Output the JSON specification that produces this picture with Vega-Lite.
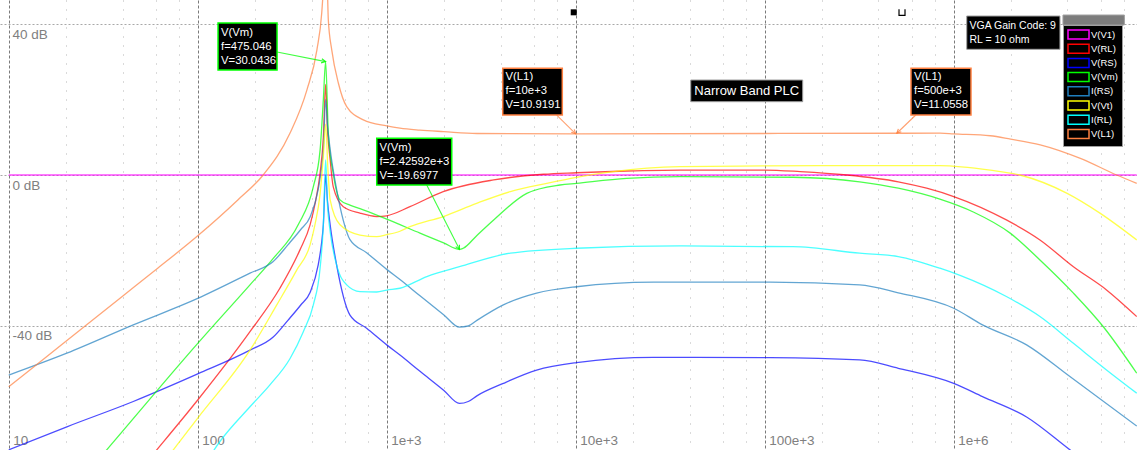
{
  "$schema": "https://vega.github.io/schema/vega-lite/v6.json",
  "width": 1137,
  "height": 450,
  "autosize": "none",
  "padding": 0,
  "background": "white",
  "config": {"view": {"stroke": null}, "font": "Liberation Sans"},
  "datasets": {
    "curves": [
      {"s":"V(V1)","f":10,"db":0},{"s":"V(V1)","f":9300000,"db":0},

      {"s":"V(RL)","f":10,"db":-120},{"s":"V(RL)","f":40,"db":-83.6},{"s":"V(RL)","f":60.7,"db":-72.8},{"s":"V(RL)","f":100,"db":-59.6},{"s":"V(RL)","f":189,"db":-41.5},{"s":"V(RL)","f":272,"db":-30},{"s":"V(RL)","f":347,"db":-19.9},{"s":"V(RL)","f":393,"db":-13.2},{"s":"V(RL)","f":420,"db":-7},{"s":"V(RL)","f":444,"db":0.5},{"s":"V(RL)","f":462,"db":10},{"s":"V(RL)","f":475,"db":24},{"s":"V(RL)","f":486,"db":12},{"s":"V(RL)","f":502,"db":4},{"s":"V(RL)","f":521,"db":-3.1},{"s":"V(RL)","f":589,"db":-8.4},{"s":"V(RL)","f":722,"db":-10.1},{"s":"V(RL)","f":885,"db":-11},{"s":"V(RL)","f":1000,"db":-10.8},{"s":"V(RL)","f":1327,"db":-8.4},{"s":"V(RL)","f":1990,"db":-4.4},{"s":"V(RL)","f":3680,"db":-1.3},{"s":"V(RL)","f":6750,"db":0.2},{"s":"V(RL)","f":10100,"db":0.6},{"s":"V(RL)","f":18600,"db":1.06},{"s":"V(RL)","f":35600,"db":1.3},{"s":"V(RL)","f":100000,"db":1.3},{"s":"V(RL)","f":154000,"db":0.9},{"s":"V(RL)","f":272000,"db":0},{"s":"V(RL)","f":509000,"db":-1.8},{"s":"V(RL)","f":719000,"db":-3.5},{"s":"V(RL)","f":1000000,"db":-5.7},{"s":"V(RL)","f":1900000,"db":-11.9},{"s":"V(RL)","f":2860000,"db":-17.2},{"s":"V(RL)","f":4300000,"db":-24.3},{"s":"V(RL)","f":6460000,"db":-30.5},{"s":"V(RL)","f":9300000,"db":-37.5},

      {"s":"V(RS)","f":10,"db":-72.8},{"s":"V(RS)","f":20.3,"db":-66.7},{"s":"V(RS)","f":45.6,"db":-60},{"s":"V(RS)","f":100,"db":-52.7},{"s":"V(RS)","f":189,"db":-46.4},{"s":"V(RS)","f":250,"db":-43},{"s":"V(RS)","f":300,"db":-38.5},{"s":"V(RS)","f":350,"db":-34.5},{"s":"V(RS)","f":393,"db":-31.1},{"s":"V(RS)","f":434,"db":-23.8},{"s":"V(RS)","f":453,"db":-17.7},{"s":"V(RS)","f":462,"db":-13.2},{"s":"V(RS)","f":475,"db":0},{"s":"V(RS)","f":486,"db":-7},{"s":"V(RS)","f":502,"db":-13.2},{"s":"V(RS)","f":543,"db":-23.8},{"s":"V(RS)","f":639,"db":-37.1},{"s":"V(RS)","f":783,"db":-40.6},{"s":"V(RS)","f":1000,"db":-45},{"s":"V(RS)","f":1175,"db":-47.7},{"s":"V(RS)","f":1500,"db":-52},{"s":"V(RS)","f":2000,"db":-57},{"s":"V(RS)","f":2426,"db":-60.5},{"s":"V(RS)","f":2700,"db":-60},{"s":"V(RS)","f":3000,"db":-58.5},{"s":"V(RS)","f":4140,"db":-55.2},{"s":"V(RS)","f":6210,"db":-51.7},{"s":"V(RS)","f":10100,"db":-49.7},{"s":"V(RS)","f":25700,"db":-48.3},{"s":"V(RS)","f":107000,"db":-48.4},{"s":"V(RS)","f":318000,"db":-49},{"s":"V(RS)","f":509000,"db":-51.2},{"s":"V(RS)","f":1000000,"db":-55.2},{"s":"V(RS)","f":1420000,"db":-58.7},{"s":"V(RS)","f":2430000,"db":-64.1},{"s":"V(RS)","f":4120000,"db":-72.8},{"s":"V(RS)","f":9300000,"db":-86},

      {"s":"V(Vm)","f":10,"db":-103},{"s":"V(Vm)","f":33,"db":-72.8},{"s":"V(Vm)","f":100,"db":-44.6},{"s":"V(Vm)","f":189,"db":-29.1},{"s":"V(Vm)","f":251,"db":-22.1},{"s":"V(Vm)","f":340,"db":-13.2},{"s":"V(Vm)","f":409,"db":-3.1},{"s":"V(Vm)","f":444,"db":6.6},{"s":"V(Vm)","f":462,"db":19.9},{"s":"V(Vm)","f":475,"db":30.04},{"s":"V(Vm)","f":491,"db":11},{"s":"V(Vm)","f":521,"db":0.45},{"s":"V(Vm)","f":566,"db":-6.6},{"s":"V(Vm)","f":639,"db":-8},{"s":"V(Vm)","f":722,"db":-8.9},{"s":"V(Vm)","f":1000,"db":-11.7},{"s":"V(Vm)","f":1500,"db":-15.4},{"s":"V(Vm)","f":2000,"db":-18},{"s":"V(Vm)","f":2426,"db":-19.7},{"s":"V(Vm)","f":2540,"db":-19.4},{"s":"V(Vm)","f":3000,"db":-16},{"s":"V(Vm)","f":3680,"db":-11.9},{"s":"V(Vm)","f":5510,"db":-4.85},{"s":"V(Vm)","f":8260,"db":-2.65},{"s":"V(Vm)","f":10100,"db":-2.2},{"s":"V(Vm)","f":18600,"db":-0.87},{"s":"V(Vm)","f":35600,"db":-0.45},{"s":"V(Vm)","f":141000,"db":-0.6},{"s":"V(Vm)","f":318000,"db":-1.8},{"s":"V(Vm)","f":509000,"db":-3.5},{"s":"V(Vm)","f":845000,"db":-6.4},{"s":"V(Vm)","f":1270000,"db":-9.8},{"s":"V(Vm)","f":1990000,"db":-15.4},{"s":"V(Vm)","f":2860000,"db":-22.5},{"s":"V(Vm)","f":4300000,"db":-31.3},{"s":"V(Vm)","f":6190000,"db":-40.2},{"s":"V(Vm)","f":9300000,"db":-52.5},

      {"s":"I(RS)","f":10,"db":-53},{"s":"I(RS)","f":20.3,"db":-47.2},{"s":"I(RS)","f":45.6,"db":-39.7},{"s":"I(RS)","f":100,"db":-32.7},{"s":"I(RS)","f":189,"db":-26},{"s":"I(RS)","f":250,"db":-23},{"s":"I(RS)","f":300,"db":-18.5},{"s":"I(RS)","f":350,"db":-14.5},{"s":"I(RS)","f":393,"db":-11.1},{"s":"I(RS)","f":434,"db":-3.8},{"s":"I(RS)","f":453,"db":2.3},{"s":"I(RS)","f":462,"db":6.8},{"s":"I(RS)","f":475,"db":20},{"s":"I(RS)","f":486,"db":13},{"s":"I(RS)","f":502,"db":6.8},{"s":"I(RS)","f":543,"db":-3.8},{"s":"I(RS)","f":589,"db":-12},{"s":"I(RS)","f":639,"db":-17.1},{"s":"I(RS)","f":783,"db":-20.6},{"s":"I(RS)","f":1000,"db":-25},{"s":"I(RS)","f":1175,"db":-27.7},{"s":"I(RS)","f":1500,"db":-32},{"s":"I(RS)","f":2000,"db":-37},{"s":"I(RS)","f":2426,"db":-40.3},{"s":"I(RS)","f":2700,"db":-40},{"s":"I(RS)","f":3000,"db":-38.5},{"s":"I(RS)","f":4140,"db":-34.4},{"s":"I(RS)","f":6210,"db":-31.3},{"s":"I(RS)","f":10100,"db":-29.6},{"s":"I(RS)","f":25700,"db":-28.4},{"s":"I(RS)","f":107000,"db":-28.4},{"s":"I(RS)","f":318000,"db":-29.1},{"s":"I(RS)","f":509000,"db":-31.2},{"s":"I(RS)","f":1000000,"db":-35.3},{"s":"I(RS)","f":1420000,"db":-39.7},{"s":"I(RS)","f":2430000,"db":-45},{"s":"I(RS)","f":4120000,"db":-53.4},{"s":"I(RS)","f":9300000,"db":-66.5},

      {"s":"V(Vt)","f":10,"db":-125},{"s":"V(Vt)","f":40,"db":-89},{"s":"V(Vt)","f":74.3,"db":-72.8},{"s":"V(Vt)","f":100,"db":-64.4},{"s":"V(Vt)","f":189,"db":-46.4},{"s":"V(Vt)","f":262,"db":-34.4},{"s":"V(Vt)","f":334,"db":-25.2},{"s":"V(Vt)","f":393,"db":-18.5},{"s":"V(Vt)","f":417,"db":-13.2},{"s":"V(Vt)","f":444,"db":-5},{"s":"V(Vt)","f":462,"db":5},{"s":"V(Vt)","f":475,"db":13.5},{"s":"V(Vt)","f":488,"db":2},{"s":"V(Vt)","f":502,"db":-6.6},{"s":"V(Vt)","f":566,"db":-13.2},{"s":"V(Vt)","f":722,"db":-15.9},{"s":"V(Vt)","f":885,"db":-16.3},{"s":"V(Vt)","f":1000,"db":-15.8},{"s":"V(Vt)","f":1175,"db":-14.9},{"s":"V(Vt)","f":1327,"db":-13.7},{"s":"V(Vt)","f":1990,"db":-11},{"s":"V(Vt)","f":2990,"db":-7.5},{"s":"V(Vt)","f":4510,"db":-4.4},{"s":"V(Vt)","f":7030,"db":-2.2},{"s":"V(Vt)","f":10100,"db":-0.6},{"s":"V(Vt)","f":15800,"db":0.9},{"s":"V(Vt)","f":35600,"db":2.2},{"s":"V(Vt)","f":100000,"db":2.4},{"s":"V(Vt)","f":500000,"db":2.5},{"s":"V(Vt)","f":845000,"db":2.5},{"s":"V(Vt)","f":1560000,"db":1.3},{"s":"V(Vt)","f":2240000,"db":0},{"s":"V(Vt)","f":3960000,"db":-4.8},{"s":"V(Vt)","f":5940000,"db":-10.1},{"s":"V(Vt)","f":9300000,"db":-17.2},

      {"s":"I(RL)","f":10,"db":-140},{"s":"I(RL)","f":100,"db":-79.6},{"s":"I(RL)","f":131,"db":-70.6},{"s":"I(RL)","f":189,"db":-61.4},{"s":"I(RL)","f":241,"db":-55.6},{"s":"I(RL)","f":308,"db":-48.6},{"s":"I(RL)","f":362,"db":-41.5},{"s":"I(RL)","f":409,"db":-34.4},{"s":"I(RL)","f":444,"db":-24.7},{"s":"I(RL)","f":462,"db":-13.2},{"s":"I(RL)","f":475,"db":4},{"s":"I(RL)","f":486,"db":-8},{"s":"I(RL)","f":502,"db":-15},{"s":"I(RL)","f":543,"db":-23.8},{"s":"I(RL)","f":614,"db":-29.1},{"s":"I(RL)","f":722,"db":-30.9},{"s":"I(RL)","f":885,"db":-31},{"s":"I(RL)","f":1000,"db":-30.5},{"s":"I(RL)","f":1175,"db":-30},{"s":"I(RL)","f":1630,"db":-26.9},{"s":"I(RL)","f":2426,"db":-24.3},{"s":"I(RL)","f":4510,"db":-20.7},{"s":"I(RL)","f":10100,"db":-19.4},{"s":"I(RL)","f":35600,"db":-18.8},{"s":"I(RL)","f":141000,"db":-19},{"s":"I(RL)","f":318000,"db":-20.7},{"s":"I(RL)","f":509000,"db":-21.6},{"s":"I(RL)","f":845000,"db":-24.7},{"s":"I(RL)","f":1080000,"db":-26.6},{"s":"I(RL)","f":1900000,"db":-32.2},{"s":"I(RL)","f":2860000,"db":-37.5},{"s":"I(RL)","f":4300000,"db":-44.6},{"s":"I(RL)","f":6460000,"db":-51.7},{"s":"I(RL)","f":9300000,"db":-57.8},

      {"s":"V(L1)","f":10,"db":-56.1},{"s":"V(L1)","f":20,"db":-44.1},{"s":"V(L1)","f":40,"db":-32.1},{"s":"V(L1)","f":60,"db":-25.1},{"s":"V(L1)","f":100,"db":-16.1},{"s":"V(L1)","f":163,"db":-6.6},{"s":"V(L1)","f":222,"db":0},{"s":"V(L1)","f":308,"db":11.1},{"s":"V(L1)","f":378,"db":22.5},{"s":"V(L1)","f":427,"db":33.1},{"s":"V(L1)","f":453,"db":42.9},{"s":"V(L1)","f":465,"db":52},{"s":"V(L1)","f":475,"db":62},{"s":"V(L1)","f":485,"db":50},{"s":"V(L1)","f":491,"db":41},{"s":"V(L1)","f":512,"db":33.1},{"s":"V(L1)","f":555,"db":24.3},{"s":"V(L1)","f":614,"db":18.1},{"s":"V(L1)","f":752,"db":14.6},{"s":"V(L1)","f":1000,"db":13},{"s":"V(L1)","f":1175,"db":12.4},{"s":"V(L1)","f":1500,"db":11.9},{"s":"V(L1)","f":2000,"db":11.5},{"s":"V(L1)","f":3000,"db":11},{"s":"V(L1)","f":10000,"db":10.92},{"s":"V(L1)","f":100000,"db":11},{"s":"V(L1)","f":500000,"db":11.06},{"s":"V(L1)","f":847000,"db":11.1},{"s":"V(L1)","f":1000000,"db":10.9},{"s":"V(L1)","f":1560000,"db":10.4},{"s":"V(L1)","f":2000000,"db":9.5},{"s":"V(L1)","f":2870000,"db":8},{"s":"V(L1)","f":4680000,"db":4.4},{"s":"V(L1)","f":7280000,"db":0},{"s":"V(L1)","f":9300000,"db":-2.2}
    ],
    "cursors": [{"f":10000},{"f":500000}],
    "markers": [{"k":"a","f":9760,"db":43.1},{"k":"b","f":532700,"db":43.1}],
    "arrows": [
      {"id":1,"s":"V(Vm)","f2":262.8,"d2":32.58,"f":475,"db":30.04},
      {"id":2,"s":"V(Vm)","f2":1628,"d2":-2.65,"f":2426,"db":-19.7},
      {"id":3,"s":"V(L1)","f2":7934,"d2":15.89,"f":10000,"db":10.92},
      {"id":4,"s":"V(L1)","f2":630000,"d2":15.89,"f":500000,"db":11.06}
    ],
    "boxes": [
      {"s":"V(Vm)","f":128.1,"f2":262.8,"db":40.26,"d2":27.81},
      {"s":"V(Vm)","f":885.5,"f2":2208,"db":9.72,"d2":-2.65},
      {"s":"V(L1)","f":4110,"f2":8493,"db":28.26,"d2":15.89},
      {"s":"V(L1)","f":594300,"f2":1234600,"db":28.26,"d2":15.89}
    ],
    "boxtext": [
      {"f":132.8,"db":39.2,"t":"V(Vm)\nf=475.046\nV=30.0436"},
      {"f":916,"db":8.74,"t":"V(Vm)\nf=2.42592e+3\nV=-19.6977"},
      {"f":4253,"db":27.55,"t":"V(L1)\nf=10e+3\nV=10.9191"},
      {"f":616600,"db":27.55,"t":"V(L1)\nf=500e+3\nV=11.0558"}
    ],
    "infoboxes": [
      {"f":40610,"f2":158900,"db":25.17,"d2":19.42},
      {"f":1172000,"f2":3650000,"db":42.12,"d2":33.3}
    ],
    "legendbar": [{"f":3786000,"f2":8000000,"db":42.38,"d2":39.74}]
  },
  "encoding": {
    "x": {"field": "f", "type": "quantitative",
      "scale": {"type": "log", "domain": [8.99, 9330000], "nice": false},
      "axis": {"title": null, "orient": "bottom",
        "values": [10,20,40,60,80,100,200,400,600,800,1000,2000,4000,6000,8000,10000,20000,40000,60000,80000,100000,200000,400000,600000,800000,1000000,2000000,4000000,6000000,8000000],
        "ticks": false, "domain": false, "grid": true,
        "gridColor": {"condition": {"test": "indexof([10,100,1000,10000,100000,1000000], datum.value) >= 0", "value": "#7a7a7a"}, "value": "#b4b4b4"},
        "gridDash": {"condition": {"test": "indexof([10,100,1000,10000,100000,1000000], datum.value) >= 0", "value": [3, 2]}, "value": [1, 8]},
        "labelExpr": "indexof([10,100,1000,10000,100000,1000000], datum.value) < 0 ? '' : datum.value >= 1000000 ? format(datum.value/1000000, 'd') + 'e+6' : datum.value >= 1000 ? format(datum.value/1000, 'd') + 'e+3' : format(datum.value, 'd')",
        "labelAlign": "left", "labelBaseline": "alphabetic", "labelPadding": -6, "labelOffset": 4,
        "labelColor": "#808080", "labelFont": "Liberation Sans", "labelFontSize": 13.5,
        "labelFlush": false, "labelOverlap": false, "labelBound": false}
    },
    "y": {"field": "db", "type": "quantitative",
      "scale": {"domain": [-72.85, 46.36], "nice": false, "zero": false},
      "axis": {"title": null, "orient": "left", "values": [-40, 0, 40],
        "ticks": false, "domain": false, "grid": true,
        "gridColor": "#a8a8a8", "gridDash": [2, 2],
        "labelExpr": "datum.value + ' dB'",
        "labelAlign": "left", "labelBaseline": "top", "labelPadding": -12, "labelOffset": 3,
        "labelColor": "#808080", "labelFont": "Liberation Sans", "labelFontSize": 13.5}
    }
  },
  "layer": [
    {
      "data": {"name": "curves"},
      "mark": {"type": "line", "strokeWidth": 1.3, "opacity": 0.7, "clip": true, "interpolate": "monotone"},
      "encoding": {
        "stroke": {"field": "s", "type": "nominal",
          "scale": {"domain": ["V(V1)","V(RL)","V(RS)","V(Vm)","I(RS)","V(Vt)","I(RL)","V(L1)"],
                    "range": ["#ff00ff","#ff0000","#0000ff","#00ff00","#1f7fbf","#ffff00","#00ffff","#ff8040"]},
          "legend": {"orient": "none", "legendX": 1063, "legendY": 25, "title": null,
            "fillColor": "black", "strokeColor": "#a0a0a0", "padding": 4,
            "symbolType": "M-1,-1L3.67,-1L3.67,1L-1,1Z", "symbolSize": 81, "symbolOpacity": 1,
            "labelColor": "white", "labelFont": "Liberation Sans", "labelFontSize": 9.5,
            "rowPadding": -0.8, "labelOffset": 13}
        }
      }
    },
    {
      "data": {"name": "cursors"},
      "mark": {"type": "rule", "color": "#303030", "strokeDash": [3, 2], "strokeWidth": 1.2},
      "encoding": {
        "y": {"datum": 42.4, "type": "quantitative"},
        "y2": {"datum": -80}
      }
    },
    {
      "data": {"name": "markers"},
      "transform": [{"filter": "datum.k == 'a'"}],
      "mark": {"type": "point", "shape": "square", "filled": true, "color": "black", "size": 36, "opacity": 1}
    },
    {
      "data": {"name": "markers"},
      "transform": [{"filter": "datum.k == 'b'"}],
      "mark": {"type": "point", "shape": "M-1,-1L-1,1L1,1L1,-1", "filled": false, "color": "black", "size": 36, "strokeWidth": 1.2, "opacity": 1}
    },
    {
      "data": {"name": "arrows"},
      "mark": {"type": "rule", "strokeWidth": 1.1, "opacity": 0.75},
      "encoding": {
        "x2": {"field": "f2"},
        "y2": {"field": "d2"},
        "stroke": {"field": "s", "type": "nominal", "legend": null}
      }
    },
    {
      "data": {"name": "arrows"},
      "transform": [{"filter": "datum.id == 1"}],
      "mark": {"type": "point", "shape": "M-0.6,1.2L0,0L0.6,1.2", "filled": false, "size": 49, "strokeWidth": 1.1, "angle": 101, "opacity": 0.85},
      "encoding": {"stroke": {"field": "s", "type": "nominal", "legend": null}}
    },
    {
      "data": {"name": "arrows"},
      "transform": [{"filter": "datum.id == 2"}],
      "mark": {"type": "point", "shape": "M-0.6,1.2L0,0L0.6,1.2", "filled": false, "size": 49, "strokeWidth": 1.1, "angle": 153, "opacity": 0.85},
      "encoding": {"stroke": {"field": "s", "type": "nominal", "legend": null}}
    },
    {
      "data": {"name": "arrows"},
      "transform": [{"filter": "datum.id == 3"}],
      "mark": {"type": "point", "shape": "M-0.6,1.2L0,0L0.6,1.2", "filled": false, "size": 49, "strokeWidth": 1.1, "angle": 135, "opacity": 0.85},
      "encoding": {"stroke": {"field": "s", "type": "nominal", "legend": null}}
    },
    {
      "data": {"name": "arrows"},
      "transform": [{"filter": "datum.id == 4"}],
      "mark": {"type": "point", "shape": "M-0.6,1.2L0,0L0.6,1.2", "filled": false, "size": 49, "strokeWidth": 1.1, "angle": 226, "opacity": 0.85},
      "encoding": {"stroke": {"field": "s", "type": "nominal", "legend": null}}
    },
    {
      "data": {"name": "boxes"},
      "mark": {"type": "rect", "fill": "black", "strokeWidth": 1.5, "opacity": 1},
      "encoding": {
        "x2": {"field": "f2"},
        "y2": {"field": "d2"},
        "stroke": {"field": "s", "type": "nominal", "legend": null}
      }
    },
    {
      "data": {"name": "infoboxes"},
      "mark": {"type": "rect", "fill": "black", "stroke": "#a0a0a0", "strokeWidth": 1},
      "encoding": {"x2": {"field": "f2"}, "y2": {"field": "d2"}}
    },
    {
      "data": {"name": "legendbar"},
      "mark": {"type": "rect", "fill": "#7c7c7c", "stroke": "#a0a0a0", "strokeWidth": 1},
      "encoding": {"x2": {"field": "f2"}, "y2": {"field": "d2"}}
    },
    {
      "data": {"name": "boxtext"},
      "mark": {"type": "text", "color": "white", "font": "Liberation Sans", "fontSize": 11.3, "align": "left", "baseline": "top", "lineBreak": "\n", "lineHeight": 14},
      "encoding": {"text": {"field": "t"}}
    },
    {
      "data": {"values": [{"f": 80350, "db": 22.25, "t": "Narrow Band PLC"}]},
      "mark": {"type": "text", "color": "white", "font": "Liberation Sans", "fontSize": 13, "align": "center", "baseline": "middle"},
      "encoding": {"text": {"field": "t"}}
    },
    {
      "data": {"values": [{"f": 1212500, "db": 40.9, "t": "VGA Gain Code: 9\nRL = 10 ohm"}]},
      "mark": {"type": "text", "color": "white", "font": "Liberation Sans", "fontSize": 10.5, "align": "left", "baseline": "top", "lineBreak": "\n", "lineHeight": 14},
      "encoding": {"text": {"field": "t"}}
    }
  ]
}
